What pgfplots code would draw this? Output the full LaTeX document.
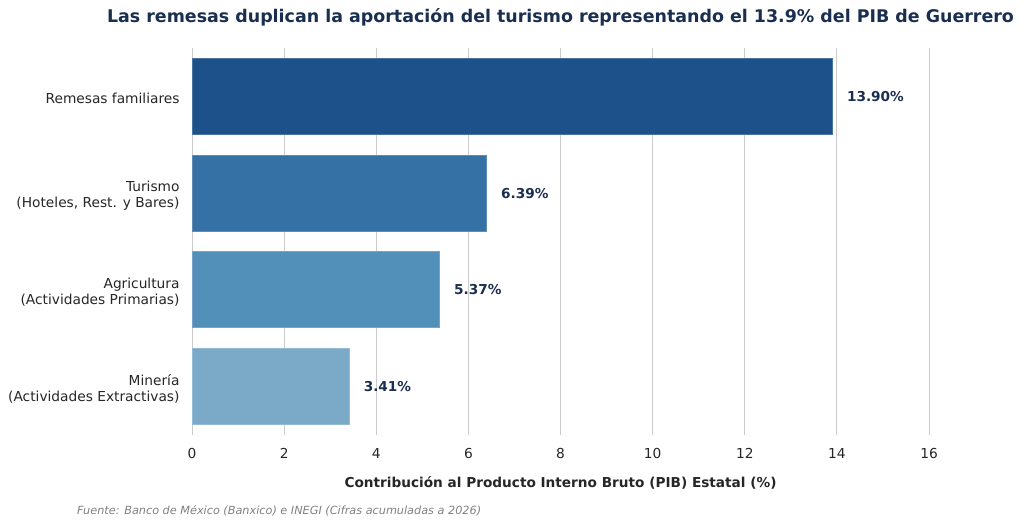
\documentclass[border=0pt]{standalone}
\usepackage{pgfplots}
\pgfplotsset{compat=1.18}
\usepackage{fontspec}
\setmainfont{DejaVu Sans}
\definecolor{titlec}{HTML}{1A2E50}
\definecolor{labc}{HTML}{1A2E50}
\definecolor{cA}{HTML}{1D5189}
\definecolor{cB}{HTML}{3571A5}
\definecolor{cC}{HTML}{5290BA}
\definecolor{cD}{HTML}{7AAAC8}
\definecolor{txt}{HTML}{262626}
\begin{document}
\begin{tikzpicture}[x=1bp,y=1bp]
\useasboundingbox (0,0) rectangle (1024,525);
\begin{axis}[
  at={(192bp,90bp)}, anchor=south west,
  scale only axis, width=737bp, height=387bp,
  xbar, bar width=76bp, bar shift=0pt,
  xmin=0, xmax=16,
  clip=false,
  ymin=-0.5, ymax=3.5, y dir=reverse,
  ytick={0,1,2,3},
  yticklabels={Remesas familiares,{Turismo\\(Hoteles, Rest. y Bares)},{Agricultura\\(Actividades Primarias)},{Minería\\(Actividades Extractivas)}},
  yticklabel style={align=right, font=\fontsize{13.8}{16}\selectfont, text=txt, xshift=-9bp, yshift=-2.5bp},
  xtick={0,2,...,16},
  xticklabel style={font=\fontsize{13.8}{16}\selectfont, text=txt, yshift=-10bp},
  /pgf/number format/assume math mode=true,
  major tick length=0pt,
  axis line style={draw=none},
  xmajorgrids, grid style={draw=black!20, line width=1bp},
  xlabel={\bfseries Contribución al Producto Interno Bruto (PIB) Estatal (\%)},
  xlabel style={font=\fontsize{13.7}{16}\selectfont, text=txt, yshift=-11bp},
  nodes near coords={\pgfmathprintnumber[fixed,precision=2,zerofill]{\pgfplotspointmeta}\%},
  nodes near coords style={font=\fontsize{13.7}{16}\bfseries\selectfont, text=labc, anchor=west, xshift=11bp},
  point meta=explicit,
]
\addplot[fill=cA, draw=cA!80!white, line width=0.8bp] coordinates {(13.90,0) [13.90]};
\addplot[fill=cB, draw=cB!80!white, line width=0.8bp] coordinates {(6.39,1) [6.39]};
\addplot[fill=cC, draw=cC!80!white, line width=0.8bp] coordinates {(5.37,2) [5.37]};
\addplot[fill=cD, draw=cD!80!white, line width=0.8bp] coordinates {(3.41,3) [3.41]};
\end{axis}
\node[anchor=base, font=\fontsize{17.5}{20}\bfseries\selectfont, text=titlec] at (560.5,502) {Las remesas duplican la aportación del turismo representando el 13.9\% del PIB de Guerrero};
\node[anchor=base west, font=\fontsize{11.3}{13}\itshape\selectfont, text=black!50, inner sep=0pt] at (77,10.5) {Fuente: Banco de México (Banxico) e INEGI (Cifras acumuladas a 2026)};
\end{tikzpicture}
\end{document}
